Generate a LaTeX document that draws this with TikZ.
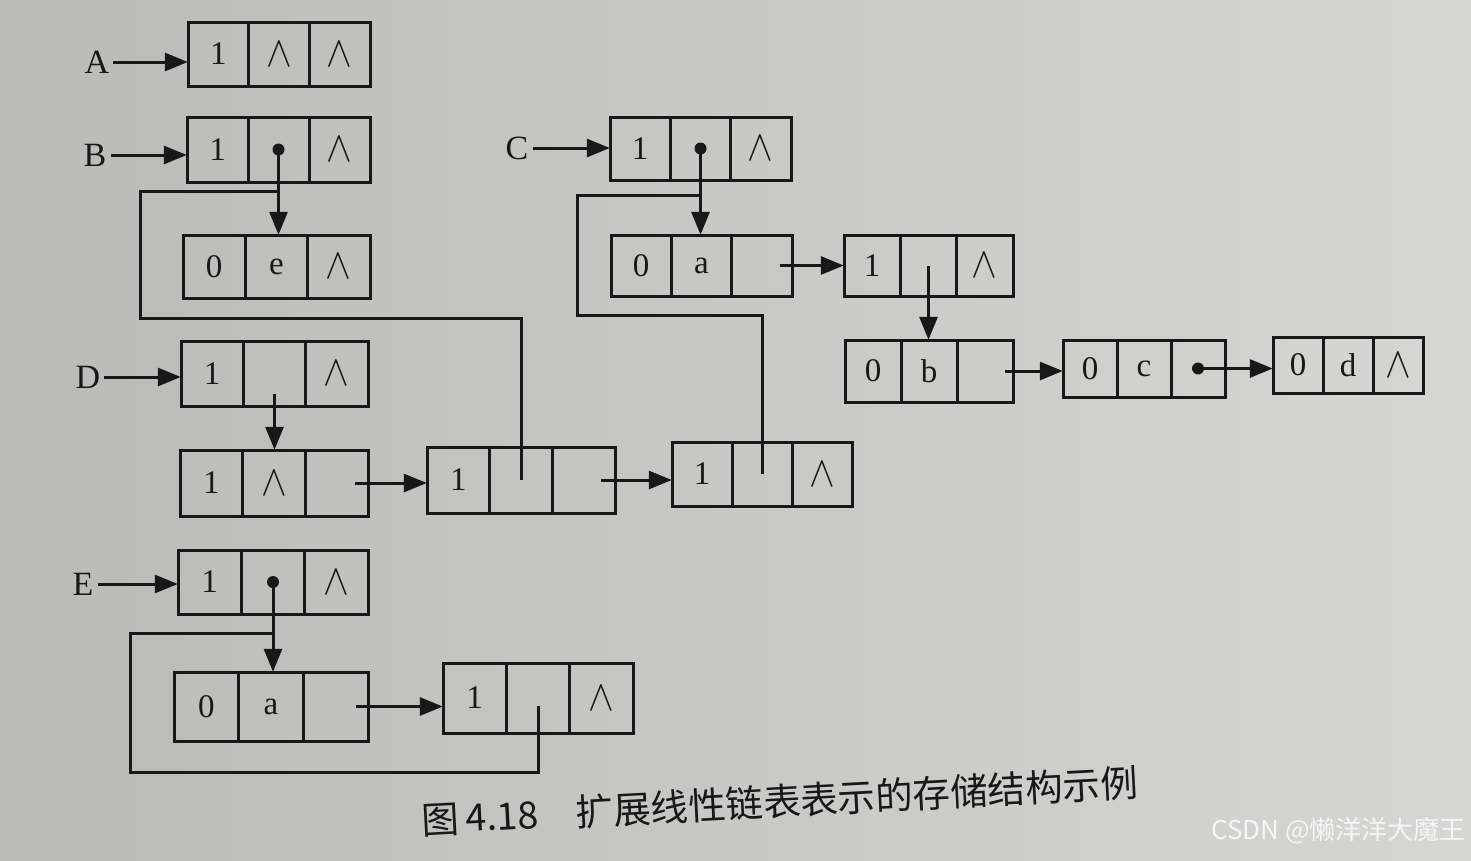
\documentclass[tikz,border=0pt]{standalone}
\usepackage{fontspec}
\setmainfont{Liberation Serif}
\newfontfamily\cjk{Noto Sans CJK SC}
\usetikzlibrary{arrows.meta,calc}
\definecolor{ink}{RGB}{24,24,24}
\definecolor{paperL}{RGB}{186,186,184}
\definecolor{paperR}{RGB}{214,214,212}
\tikzset{
 boxline/.style={draw=ink, line width=3pt},
 cell/.style={inner sep=0pt, text=ink, font=\fontsize{33}{36}\selectfont},
 lbl/.style={inner sep=0pt, text=ink, font=\fontsize{34}{38}\selectfont},
 ptr/.style={draw=ink, line width=3pt, -{Triangle[length=23pt,width=18pt]}},
 wire/.style={draw=ink, line width=3pt},
 dotmark/.style={circle, fill=ink, inner sep=0pt, minimum size=12pt},
}
\newcommand\nul{\scalebox{1.55}[1.75]{$\wedge$}}
\newcommand\tribox[8]{%
 \pgfmathsetmacro\cw{(#4-#2)/3}%
 \pgfmathsetmacro\ch{#5-#3}%
 \pgfmathsetmacro\cy{(#3+#5)/2}%
 \node[cell, minimum width=\cw pt, minimum height=\ch pt] (#1-1) at ({#2+0.5*\cw},\cy) {#6};
 \node[cell, minimum width=\cw pt, minimum height=\ch pt] (#1-2) at ({#2+1.5*\cw},\cy) {#7};
 \node[cell, minimum width=\cw pt, minimum height=\ch pt] (#1-3) at ({#2+2.5*\cw},\cy) {#8};
 \draw[boxline] (#2,#3) rectangle (#4,#5);
 \draw[boxline] (#1-1.north east) -- (#1-1.south east);
 \draw[boxline] (#1-2.north east) -- (#1-2.south east);
}
\begin{document}
\begin{tikzpicture}[x=1pt,y=-1pt]
\useasboundingbox (0,0) rectangle (1471,860);
\shade[left color=paperL, right color=paperR] (0,0) rectangle (1471,860);

% boxes
\tribox{A}{188}{22}{370}{86}{1}{\nul}{\nul}
\tribox{B}{187}{117}{370}{182}{1}{}{\nul}
\tribox{Be}{183}{235}{370}{298}{0}{e}{\nul}
\tribox{C}{610}{117}{791}{180}{1}{}{\nul}
\tribox{Ca}{611}{235}{792}{296}{0}{a}{}
\tribox{N}{844}{235}{1013}{296}{1}{}{\nul}
\tribox{Nb}{845}{340}{1013}{402}{0}{b}{}
\tribox{Nc}{1063}{340}{1225}{397}{0}{c}{}
\tribox{Nd}{1273}{337}{1423}{393}{0}{d}{\nul}
\tribox{D}{181}{341}{368}{406}{1}{}{\nul}
\tribox{D1}{180}{450}{368}{516}{1}{\nul}{}
\tribox{M}{427}{447}{615}{513}{1}{}{}
\tribox{R}{672}{442}{852}{506}{1}{}{\nul}
\tribox{E}{178}{550}{368}{614}{1}{}{\nul}
\tribox{Ea}{174}{672}{368}{741}{0}{a}{}
\tribox{E1}{443}{663}{633}{733}{1}{}{\nul}

% head labels
\node[lbl] (LA) at (97,62) {A};
\node[lbl] (LB) at (95,155) {B};
\node[lbl] (LC) at (517,148) {C};
\node[lbl] (LD) at (88,377) {D};
\node[lbl] (LE) at (83,584) {E};
\foreach \l/\b in {LA/A,LB/B,LC/C,LD/D,LE/E}{
  \coordinate (s\l) at ([xshift=4pt]\l.east);
  \draw[ptr] (s\l) -- (s\l -| \b-1.west);
}

% dots
\node[dotmark] (dB) at (B-2.center) {};
\node[dotmark] (dC) at (C-2.center) {};
\node[dotmark] (dE) at (E-2.center) {};
\node[dotmark] (dc) at (Nc-3.center) {};

% vertical sublist pointers
\draw[ptr] (dB.center) -- (dB.center |- Be-2.north);
\draw[ptr] (dC.center) -- (dC.center |- Ca-2.north);
\draw[ptr] (dE.center) -- (dE.center |- Ea-2.north);
\draw[ptr] (N-2.center) -- (N-2.center |- Nb-2.north);
\coordinate (sD) at ([yshift=-20pt]D-2.center);
\draw[ptr] (sD) -- (sD |- D1-2.north);

% horizontal next pointers
\coordinate (s1) at ([xshift=18pt]Ca-3.center);
\draw[ptr] (s1) -- (s1 -| N-1.west);
\coordinate (s2) at ([xshift=20pt]Nb-3.center);
\draw[ptr] (s2) -- (s2 -| Nc-1.west);
\draw[ptr] (dc.center) -- (dc.center -| Nd-1.west);
\coordinate (s3) at ([xshift=18pt]D1-3.center);
\draw[ptr] (s3) -- (s3 -| M-1.west);
\coordinate (s4) at ([xshift=17pt]M-3.center);
\draw[ptr] (s4) -- (s4 -| R-1.west);
\coordinate (s5) at ([xshift=20pt]Ea-3.center);
\draw[ptr] (s5) -- (s5 -| E1-1.west);

% shared sublist wires
\path (dB.center) ++(0,42) coordinate (jB);
\path (dC.center) ++(0,47) coordinate (jC);
\path (dE.center) ++(0,51) coordinate (jE);
\draw[wire] (M-2.center) |- (140,318) |- (jB);
\draw[wire] (R-2.center) |- (577,315) |- (jC);
\draw[wire] ([yshift=-8pt]E1-2.center) |- (130,772) |- (jE);

% caption
\node[anchor=west, rotate=3, inner sep=0pt, text=ink, font=\cjk\fontsize{37.5}{40}\selectfont] (cap) at (422,820) {图\,4.18\hspace{1em}扩展线性链表表示的存储结构示例};
\node[anchor=east, inner sep=0pt, text=white!92!gray, font=\cjk\fontsize{26}{28}\selectfont] (wm) at (1466,831) {CSDN @懒洋洋大魔王};
\end{tikzpicture}
\end{document}
